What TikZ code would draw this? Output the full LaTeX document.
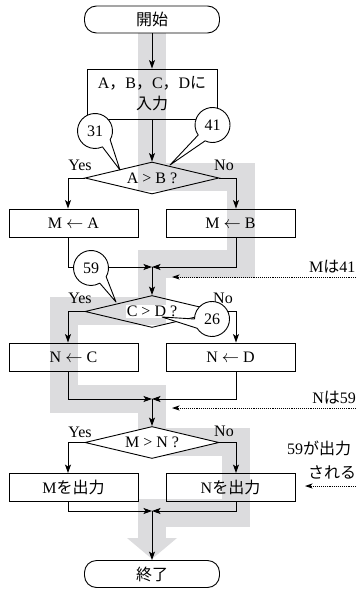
\documentclass[tikz,border=0pt]{standalone}
\usepackage{fontspec}
\setmainfont{Liberation Serif}
\newfontfamily\jpfont{Noto Sans CJK JP}
\usetikzlibrary{arrows.meta,shapes.geometric}
\newcommand\jtext[1]{{\jpfont #1}}
\definecolor{bandgray}{RGB}{220,220,222}

% speech bubble: name, centre, tip, start angle, end angle, text
\newcommand\callout[6]{%
  \coordinate (#1) at #2;
  \coordinate (#1tip) at #3;
  \draw[bubble] (#1) ++(#4:17.5) arc[start angle=#4, end angle=#5, radius=17.5] -- (#1tip) -- cycle;
  \node[inner sep=0pt] (#1text) at (#1) {#6};
}

\tikzset{
  flow/.style={line width=0.9pt},
  arr/.style={flow, -{Stealth[length=8.5pt,width=6pt,inset=2pt]}},
  note/.style={flow, densely dotted, -{Stealth[length=7.5pt,width=5pt,inset=2pt]}},
  terminal/.style={draw, line width=0.9pt, fill=white, rounded corners=12pt,
    minimum width=135pt, minimum height=27pt, inner sep=0pt},
  procbox/.style={draw, line width=0.9pt, minimum width=129pt, minimum height=28pt, inner sep=0pt},
  decision/.style={draw, line width=0.9pt, diamond, aspect=4.2,
    minimum width=134pt, minimum height=32pt, inner sep=0pt},
  tag/.style={inner sep=0pt},
  bubble/.style={draw, line width=0.9pt, fill=white, line join=round},
  band/.style={draw=bandgray, line width=28pt, line join=miter, line cap=butt},
}

\begin{document}
\begin{tikzpicture}[x=1pt, y=1pt, every node/.style={font=\fontsize{16}{21}\selectfont}]
\useasboundingbox (0,0) rectangle (356,-591);

% highlighted route of the run with A=31, B=41, C=59, D=26
\draw[band] (152,-33) -- (152,-177) -- (241,-177) -- (241,-264) -- (152,-264)
  -- (152,-311) -- (64,-311) -- (64,-399) -- (152,-399) -- (152,-442)
  -- (236,-442) -- (236,-512.5) -- (152,-512.5) -- (152,-538);
\fill[bandgray] (127,-538) -- (177,-538) -- (152,-559) -- cycle;

% terminals
\node[terminal] (start) at (152,-19.5) {\jtext{開始}};
\node[terminal] (stop) at (152,-574) {\jtext{終了}};

% input
\node[procbox, minimum width=130pt, minimum height=50pt, align=center] (inp) at (152,-94)
  {A\jtext{，}B\jtext{，}C\jtext{，}D\jtext{に}\\\jtext{入力}};

% decisions
\node[decision] (d1) at (152,-178) {A > B ?};
\node[decision] (d2) at (152,-311.5) {};
\node[fill=white, inner sep=1pt] (d2text) at (d2.center) {C > D ?};
\node[decision, fill=white] (d3) at (152,-442.5) {M > N ?};

% processing boxes
\node[procbox] (ma) at (73.5,-223) {M $\leftarrow$ A};
\node[procbox] (mb) at (230.5,-223) {M $\leftarrow$ B};
\node[procbox] (nc) at (73.5,-357) {N $\leftarrow$ C};
\node[procbox] (nd) at (230.5,-357) {N $\leftarrow$ D};
\node[procbox] (om) at (73.5,-487.5) {M\jtext{を出力}};
\node[procbox] (on) at (230.5,-487.5) {N\jtext{を出力}};

% branch columns and junctions
\coordinate (L) at (68,0);
\coordinate (R) at (236,0);
\coordinate (j1) at (152,-267);
\coordinate (j2) at (152,-399);
\coordinate (j3) at (152,-511);

% connectors
\draw[arr] (start.south) -- (inp.north);
\draw[arr] (inp.south) -- (d1.north);

\draw[arr] (d1.west) -| (L |- ma.north);
\draw[arr] (d1.east) -| (R |- mb.north);
\draw[arr] (L |- ma.south) |- (j1);
\draw[arr] (R |- mb.south) |- (j1);
\draw[arr] (j1) -- (d2.north);

\draw[arr] (d2.west) -| (L |- nc.north);
\draw[arr] (d2.east) -| (R |- nd.north);
\draw[arr] (L |- nc.south) |- (j2);
\draw[arr] (R |- nd.south) |- (j2);
\draw[arr] (j2) -- (d3.north);

\draw[arr] (d3.west) -| (L |- om.north);
\draw[arr] (d3.east) -| (R |- on.north);
\draw[arr] (L |- om.south) |- (j3);
\draw[arr] (R |- on.south) |- (j3);
\draw[arr] (j3) -- (stop.north);

% Yes / No
\node[tag] (y1) at (80,-165) {Yes};
\node[tag] (n1) at (224,-165) {No};
\node[tag] (y2) at (80,-298) {Yes};
\node[tag] (n2) at (223,-298) {No};
\node[tag] (y3) at (80,-432) {Yes};
\node[tag] (n3) at (224,-431) {No};

% side notes
\node[tag, anchor=east] (mnote) at (355.5,-267) {M\jtext{は}41};
\coordinate (mfrom) at (356,-277);
\coordinate (mto) at (172,-277);
\draw[note] (mfrom) -- (mto);

\node[tag, anchor=east] (nnote) at (356,-398) {N\jtext{は}59};
\coordinate (nfrom) at (356,-408);
\coordinate (nto) at (172,-408);
\draw[note] (nfrom) -- (nto);

\node[tag, anchor=west, align=left, font=\fontsize{16}{24}\selectfont] (onote) at (287,-460)
  {59\jtext{が出力}\\\hspace*{21pt}\jtext{される}};
\coordinate (ofrom) at (356,-486);
\coordinate (oto) at (305,-486);
\draw[note] (ofrom) -- (oto);

% values of A, B, C, D
\callout{a31}{(95,-131)}{(120,-170)}{-30}{295}{31}
\callout{b41}{(212.5,-125)}{(170,-165)}{-115}{215}{41}
\callout{c59}{(91,-268)}{(116,-302)}{-30}{300}{59}
\callout{d26}{(212,-319)}{(162,-317)}{212}{540}{26}

\end{tikzpicture}
\end{document}
